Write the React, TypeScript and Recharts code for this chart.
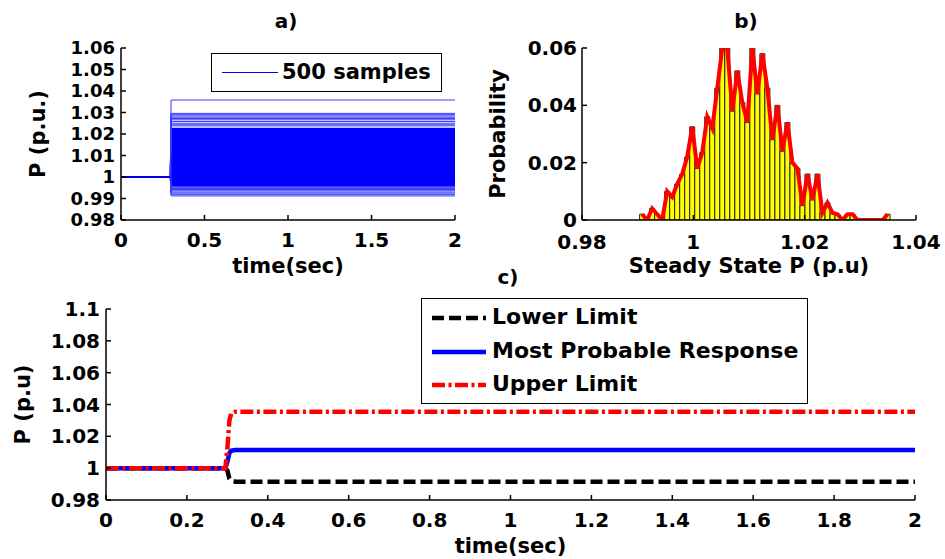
import React from "react";
import { ComposedChart, Line, Area, Bar, XAxis, YAxis, Legend } from "recharts";

const FONT = "DejaVu Sans";

// ---- a) 500 samples ----
const timeA = [0, 0.295, 0.3, 2];
const sampleBand = [0.9958, 1.0229];
const upperSamples = [1.0358, 1.0296, 1.029, 1.0284, 1.0278, 1.0272, 1.0266, 1.0258, 1.025, 1.0243, 1.0238];
const lowerSamples = [0.9956, 0.9952, 0.9947, 0.9942, 0.9936, 0.993, 0.9925, 0.9918, 0.9912];
const ticksAX = [0, 0.5, 1, 1.5, 2];
const ticksAY = [0.98, 0.99, 1, 1.01, 1.02, 1.03, 1.04, 1.05, 1.06];

// ---- b) histogram of steady state P ----
const histCenters = [
  0.9908, 0.9917, 0.9926, 0.9935, 0.9944, 0.9953, 0.9962, 0.9971, 0.998, 0.9989,
  0.9998, 1.0007, 1.0016, 1.0025, 1.0034, 1.0043, 1.0052, 1.0061, 1.007, 1.0079,
  1.0088, 1.0097, 1.0106, 1.0115, 1.0124, 1.0133, 1.0142, 1.0151, 1.016, 1.0169,
  1.0178, 1.0187, 1.0196, 1.0205, 1.0214, 1.0223, 1.0232, 1.0241, 1.025, 1.0259,
  1.0268, 1.0277, 1.0286, 1.0295, 1.0304, 1.0313, 1.0322, 1.0331, 1.034, 1.0349,
];
const histProb = [
  0.002, 0, 0.004, 0.002, 0, 0.01, 0.008, 0.0125, 0.016, 0.022,
  0.0325, 0.018, 0.0235, 0.036, 0.032, 0.046, 0.06, 0.06, 0.038, 0.052,
  0.041, 0.034, 0.06, 0.044, 0.058, 0.046, 0.028, 0.04, 0.024, 0.034,
  0.02, 0.018, 0.005, 0.016, 0.007, 0.016, 0.0025, 0.006, 0.0025, 0.002,
  0, 0.002, 0.002, 0, 0, 0, 0, 0, 0, 0.002,
];
const ticksBX = [0.98, 1, 1.02, 1.04];
const ticksBY = [0, 0.02, 0.04, 0.06];

// ---- c) limits ----
const timeC = [0, 0.295, 0.3, 0.305, 0.31, 0.32, 2];
const lowerLimit = [1, 1, 0.9985, 0.9935, 0.992, 0.9915, 0.9915];
const mostProbable = [1, 1, 1.004, 1.0095, 1.011, 1.0114, 1.0114];
const upperLimit = [1, 1, 1.012, 1.03, 1.0345, 1.0355, 1.0355];
const ticksCX = [0, 0.2, 0.4, 0.6, 0.8, 1, 1.2, 1.4, 1.6, 1.8, 2];
const ticksCY = [0.98, 1, 1.02, 1.04, 1.06, 1.08, 1.1];

const seriesC = [
  { key: "lower", name: "Lower Limit", color: "#000000", dash: "12 5" },
  { key: "mpr", name: "Most Probable Response", color: "#0000ff", dash: undefined },
  { key: "upper", name: "Upper Limit", color: "#ff0000", dash: "13 3.5 3 3.5" },
];

const samplesA = [...upperSamples, ...lowerSamples];
const rowsA = timeA.map((t) => {
  const after = t >= 0.3;
  const row: Record<string, any> = { t, base: after ? null : 1, band: after ? sampleBand : null };
  samplesA.forEach((v, k) => {
    row["s" + k] = after ? v : 1;
  });
  return row;
});

const rowsB = histCenters.map((p, i) => ({ p, prob: histProb[i] }));

const rowsC = timeC.map((t, i) => ({
  t,
  lower: lowerLimit[i],
  mpr: mostProbable[i],
  upper: upperLimit[i],
}));

const tickStyle = { fill: "#000", fontSize: 20, fontWeight: 700, fontFamily: FONT };
const labelProps = { fill: "#000", fontSize: 21, fontWeight: 700, fontFamily: FONT };
const axisColor = "#000";

const Title = ({ text, cx, cy }: { text: string; cx: number; cy: number }) => (
  <div
    style={{
      position: "absolute",
      left: cx - 40,
      top: cy - 12,
      width: 80,
      height: 24,
      lineHeight: "24px",
      textAlign: "center",
      fontSize: 20,
      fontWeight: 700,
      fontFamily: FONT,
    }}
  >
    {text}
  </div>
);

// frame axes on top and right, ticks pointing inward, no labels
const frameAxes = (xDomain: number[], xTicks: number[], yDomain: number[], yTicks: number[]) => [
  <XAxis
    key="top"
    xAxisId="top"
    orientation="top"
    type="number"
    domain={xDomain}
    ticks={xTicks}
    allowDataOverflow
    height={0}
    tick={false}
    tickSize={-5}
    stroke={axisColor}
    strokeWidth={1.5}
  />,
  <YAxis
    key="right"
    yAxisId="right"
    orientation="right"
    type="number"
    domain={yDomain}
    ticks={yTicks}
    allowDataOverflow
    width={0}
    tick={false}
    tickSize={-5}
    stroke={axisColor}
    strokeWidth={1.5}
  />,
];

function ChartA() {
  return (
    <ComposedChart width={470} height={290} data={rowsA} margin={{ top: 48, right: 15, bottom: 0, left: 0 }}>
      <XAxis
        dataKey="t"
        type="number"
        domain={[0, 2]}
        ticks={ticksAX}
        interval={0}
        allowDataOverflow
        height={70}
        tick={tickStyle}
        tickSize={-5}
        tickMargin={18}
        stroke={axisColor}
        strokeWidth={1.5}
        label={{ value: "time(sec)", position: "insideBottom", offset: 17, ...labelProps }}
      />
      <YAxis
        type="number"
        domain={[0.98, 1.06]}
        ticks={ticksAY}
        interval={0}
        allowDataOverflow
        width={121}
        tick={{ ...tickStyle, fontSize: 18 }}
        tickSize={-5}
        tickMargin={11}
        stroke={axisColor}
        strokeWidth={1.5}
        label={{
          value: "P (p.u.)",
          angle: -90,
          position: "insideLeft",
          offset: 38,
          style: { textAnchor: "middle" },
          ...labelProps,
        }}
      />
      {frameAxes([0, 2], ticksAX, [0.98, 1.06], ticksAY)}
      <Area dataKey="band" stroke="none" fill="#0000ff" fillOpacity={1} isAnimationActive={false} />
      {samplesA.map((_, k) => (
        <Line
          key={k}
          dataKey={"s" + k}
          stroke="#3a3aff"
          strokeWidth={1}
          dot={false}
          isAnimationActive={false}
        />
      ))}
      <Line dataKey="base" stroke="#0000dd" strokeWidth={2} dot={false} isAnimationActive={false} />
      <Legend
        layout="horizontal"
        align="center"
        verticalAlign="middle"
        wrapperStyle={{ left: 211, top: 53, width: 231, height: 39 }}
        content={() => (
          <div
            style={{
              width: 229,
              height: 37,
              border: "1px solid #000",
              background: "#fff",
              position: "relative",
              fontFamily: FONT,
            }}
          >
            <div style={{ position: "absolute", left: 10, top: 18, width: 56, height: 1, background: "#0000ff" }} />
            <div
              style={{
                position: "absolute",
                left: 70,
                top: 5,
                fontSize: 21,
                fontWeight: 700,
                lineHeight: "26px",
                whiteSpace: "nowrap",
              }}
            >
              500 samples
            </div>
          </div>
        )}
      />
    </ComposedChart>
  );
}

function ChartB() {
  return (
    <ComposedChart width={475} height={290} data={rowsB} margin={{ top: 48, right: 29, bottom: 0, left: 0 }}>
      <XAxis
        dataKey="p"
        type="number"
        domain={[0.98, 1.04]}
        ticks={ticksBX}
        interval={0}
        allowDataOverflow
        height={70}
        tick={tickStyle}
        tickSize={-5}
        tickMargin={20}
        stroke={axisColor}
        strokeWidth={1.5}
        label={{ value: "Steady State P (p.u)", position: "insideBottom", offset: 17, ...labelProps }}
      />
      <YAxis
        type="number"
        domain={[0, 0.06]}
        ticks={ticksBY}
        interval={0}
        allowDataOverflow
        width={112}
        tick={tickStyle}
        tickSize={-5}
        tickMargin={10}
        stroke={axisColor}
        strokeWidth={1.5}
        label={{
          value: "Probability",
          angle: -90,
          position: "insideLeft",
          offset: 28,
          style: { textAnchor: "middle" },
          ...labelProps,
        }}
      />
      {frameAxes([0.98, 1.04], ticksBX, [0, 0.06], ticksBY)}
      <Bar dataKey="prob" fill="#ffff00" stroke="#222" strokeWidth={1} barSize={5} isAnimationActive={false} />
      <Line dataKey="prob" type="linear" stroke="#ff0000" strokeWidth={4} dot={false} isAnimationActive={false} />
    </ComposedChart>
  );
}

function ChartC() {
  return (
    <ComposedChart width={945} height={279} data={rowsC} margin={{ top: 29, right: 30, bottom: 0, left: 0 }}>
      <XAxis
        dataKey="t"
        type="number"
        domain={[0, 2]}
        ticks={ticksCX}
        interval={0}
        allowDataOverflow
        height={59}
        tick={tickStyle}
        tickSize={-5}
        tickMargin={18}
        stroke={axisColor}
        strokeWidth={1.5}
        label={{ value: "time(sec)", position: "insideBottom", offset: 6, ...labelProps }}
      />
      <YAxis
        type="number"
        domain={[0.98, 1.1]}
        ticks={ticksCY}
        interval={0}
        allowDataOverflow
        width={106}
        tick={tickStyle}
        tickSize={-5}
        tickMargin={11}
        stroke={axisColor}
        strokeWidth={1.5}
        label={{
          value: "P (p.u)",
          angle: -90,
          position: "insideLeft",
          offset: 23,
          style: { textAnchor: "middle" },
          ...labelProps,
        }}
      />
      {frameAxes([0, 2], ticksCX, [0.98, 1.1], ticksCY)}
      {seriesC.map((s) => (
        <Line
          key={s.key}
          dataKey={s.key}
          name={s.name}
          stroke={s.color}
          strokeWidth={4.5}
          strokeDasharray={s.dash}
          dot={false}
          isAnimationActive={false}
        />
      ))}
      <Legend
        layout="horizontal"
        align="center"
        verticalAlign="middle"
        wrapperStyle={{ left: 421, top: 18, width: 387, height: 106 }}
        content={() => (
          <div
            style={{
              width: 385,
              height: 104,
              border: "1px solid #000",
              background: "#fff",
              position: "relative",
              fontFamily: FONT,
            }}
          >
            {seriesC.map((s, i) => (
              <div key={s.key}>
                <svg
                  width={54}
                  height={8}
                  style={{ position: "absolute", left: 10, top: 15 + i * 33.5 }}
                >
                  <line
                    x1={0}
                    y1={4}
                    x2={54}
                    y2={4}
                    stroke={s.color}
                    strokeWidth={4.5}
                    strokeDasharray={s.dash}
                  />
                </svg>
                <div
                  style={{
                    position: "absolute",
                    left: 70,
                    top: 4 + i * 33.5,
                    fontSize: 22,
                    fontWeight: 700,
                    lineHeight: "28px",
                    whiteSpace: "nowrap",
                  }}
                >
                  {s.name}
                </div>
              </div>
            ))}
          </div>
        )}
      />
    </ComposedChart>
  );
}

export default function App() {
  return (
    <div
      style={{
        position: "absolute",
        left: 0,
        top: 0,
        width: 945,
        height: 559,
        background: "#fff",
        overflow: "hidden",
        fontFamily: FONT,
      }}
    >
      <div style={{ position: "absolute", left: 0, top: 0 }}>
        <ChartA />
      </div>
      <div style={{ position: "absolute", left: 470, top: 0 }}>
        <ChartB />
      </div>
      <div style={{ position: "absolute", left: 0, top: 280 }}>
        <ChartC />
      </div>
      <Title text="a)" cx={286} cy={21} />
      <Title text="b)" cx={746} cy={21} />
      <Title text="c)" cx={508} cy={277} />
    </div>
  );
}
